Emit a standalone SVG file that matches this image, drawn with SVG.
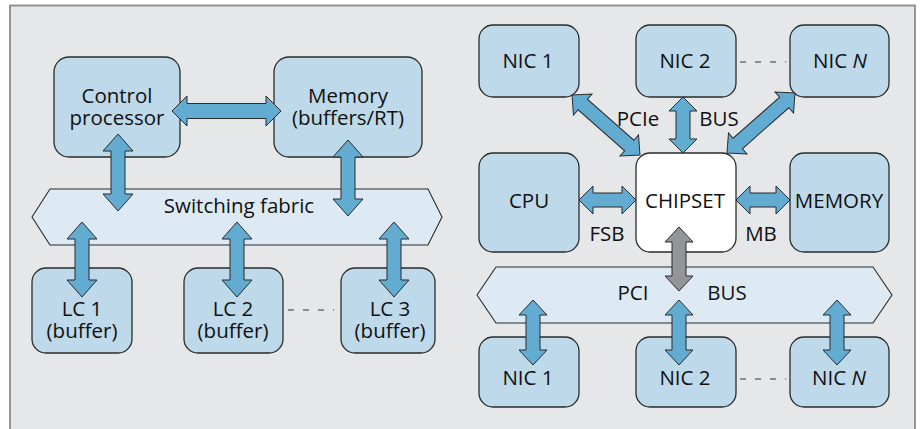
<svg xmlns="http://www.w3.org/2000/svg" width="921" height="429" viewBox="0 0 921 429">
<style>
.box{fill:#bdd9ea;stroke:#2b2b2b;stroke-width:1.3}
.chip{fill:#ffffff;stroke:#2b2b2b;stroke-width:1.3}
.bus{fill:#ddeaf4;stroke:#2b2b2b;stroke-width:1.1}
.arr{fill:#62abd1;stroke:#2b2b2b;stroke-width:1;stroke-linejoin:miter}
.garr{fill:#949598;stroke:#2b2b2b;stroke-width:1}
.t{font-family:"Open Sans","Liberation Sans",sans-serif;font-size:20.5px;fill:#111111;text-anchor:middle}
.dash{stroke:#333;stroke-width:1.2;stroke-dasharray:6 9}
</style>
<rect x="0" y="0" width="921" height="429" fill="#ffffff"/>
<rect x="10" y="5.5" width="905" height="430" fill="#e6e7e9" stroke="#8a8a8c" stroke-width="1.8"/>

<g id="bus-switching">
<polygon class="bus" points="32,217 50,189 428,189 442,217 428,245 50,245"/>
<text class="t" x="239" y="213">Switching fabric</text>
</g>
<g id="bus-pci">
<polygon class="bus" points="477,295 496,267 873,267 892,295 873,323 496,323"/>
<text class="t" x="633" y="300">PCI</text>
<text class="t" x="727" y="300">BUS</text>
</g>

<g id="control-processor">
<rect class="box" x="54" y="57" width="126" height="100" rx="15"/>
<text class="t" x="117" y="103">Control</text>
<text class="t" x="117" y="125">processor</text>
</g>
<g id="memory-left">
<rect class="box" x="274" y="57" width="148" height="100" rx="15"/>
<text class="t" x="348" y="103">Memory</text>
<text class="t" x="348" y="125">(buffers/RT)</text>
</g>
<g id="lc1">
<rect class="box" x="32" y="268" width="100" height="85" rx="14"/>
<text class="t" x="82" y="316">LC 1</text>
<text class="t" x="82" y="338">(buffer)</text>
</g>
<g id="lc2">
<rect class="box" x="184" y="268" width="99" height="85" rx="14"/>
<text class="t" x="233" y="316">LC 2</text>
<text class="t" x="233" y="338">(buffer)</text>
</g>
<g id="lc3">
<rect class="box" x="341" y="268" width="94" height="85" rx="14"/>
<text class="t" x="390" y="316">LC 3</text>
<text class="t" x="390" y="338">(buffer)</text>
</g>

<g id="nic1-top">
<rect class="box" x="479" y="25" width="100" height="72" rx="14"/>
<text class="t" x="528" y="68">NIC 1</text>
</g>
<g id="nic2-top">
<rect class="box" x="636" y="25" width="100" height="72" rx="14"/>
<text class="t" x="685" y="68">NIC 2</text>
</g>
<g id="nicn-top">
<rect class="box" x="790" y="25" width="99" height="72" rx="14"/>
<text class="t" x="840" y="68">NIC <tspan font-style="italic">N</tspan></text>
</g>
<g id="cpu">
<rect class="box" x="479" y="153" width="100" height="99" rx="14"/>
<text class="t" x="529" y="208">CPU</text>
</g>
<g id="chipset">
<rect class="chip" x="636" y="153" width="100" height="99" rx="14"/>
<text class="t" x="685" y="208">CHIPSET</text>
</g>
<g id="memory-right">
<rect class="box" x="790" y="153" width="99" height="99" rx="14"/>
<text class="t" x="839" y="208">MEMORY</text>
</g>
<g id="nic1-bottom">
<rect class="box" x="479" y="337" width="100" height="70" rx="14"/>
<text class="t" x="528" y="385">NIC 1</text>
</g>
<g id="nic2-bottom">
<rect class="box" x="636" y="337" width="100" height="70" rx="14"/>
<text class="t" x="685" y="385">NIC 2</text>
</g>
<g id="nicn-bottom">
<rect class="box" x="790" y="337" width="99" height="70" rx="14"/>
<text class="t" x="839" y="385">NIC <tspan font-style="italic">N</tspan></text>
</g>

<g id="connectors">
<polygon class="arr" points="172,111 187,96 187,103.5 266,103.5 266,96 281,111 266,126 266,118.5 187,118.5 187,126"/>
<polygon class="arr" points="118,134 133,151 125,151 125,194 133,194 118,211 103,194 111,194 111,151 103,151"/>
<polygon class="arr" points="348,140 363,157 355,157 355,199 363,199 348,216 333,199 341,199 341,157 333,157"/>
<polygon class="arr" points="82,222 97,239 89,239 89,280 97,280 82,297 67,280 75,280 75,239 67,239"/>
<polygon class="arr" points="237,222 252,239 244,239 244,280 252,280 237,297 222,280 230,280 230,239 222,239"/>
<polygon class="arr" points="394,222 409,239 401,239 401,280 409,280 394,297 379,280 387,280 387,239 379,239"/>
<line class="dash" x1="288" y1="310" x2="334" y2="310"/>
<polygon class="arr" transform="translate(606,125) rotate(41.4)" points="-45.3,0 -31,-14 -31,-7 31,-7 31,-14 45.3,0 31,14 31,7 -31,7 -31,14"/>
<polygon class="arr" transform="translate(761,123) rotate(138.6)" points="-45.3,0 -31,-14 -31,-7 31,-7 31,-14 45.3,0 31,14 31,7 -31,7 -31,14"/>
<polygon class="arr" points="683,97 697,111 690,111 690,139 697,139 683,153 669,139 676,139 676,111 669,111"/>
<polygon class="arr" points="579,200 593,186 593,193 622,193 622,186 636,200 622,214 622,207 593,207 593,214"/>
<polygon class="arr" points="736,200 750,186 750,193 776,193 776,186 790,200 776,214 776,207 750,207 750,214"/>
<polygon class="garr" points="679,227 693,242 686,242 686,276 693,276 679,291 665,276 672,276 672,242 665,242"/>
<polygon class="arr" points="533,300 547,315 540,315 540,350 547,350 533,365 519,350 526,350 526,315 519,315"/>
<polygon class="arr" points="679,300 693,315 686,315 686,350 693,350 679,365 665,350 672,350 672,315 665,315"/>
<polygon class="arr" points="837,300 851,315 844,315 844,350 851,350 837,365 823,350 830,350 830,315 823,315"/>
<line class="dash" x1="740" y1="62" x2="786" y2="62"/>
<line class="dash" x1="740" y1="379" x2="786" y2="379"/>
<text class="t" x="638" y="126">PCIe</text>
<text class="t" x="719" y="126">BUS</text>
<text class="t" x="607" y="241">FSB</text>
<text class="t" x="761" y="241">MB</text>
</g>
</svg>
